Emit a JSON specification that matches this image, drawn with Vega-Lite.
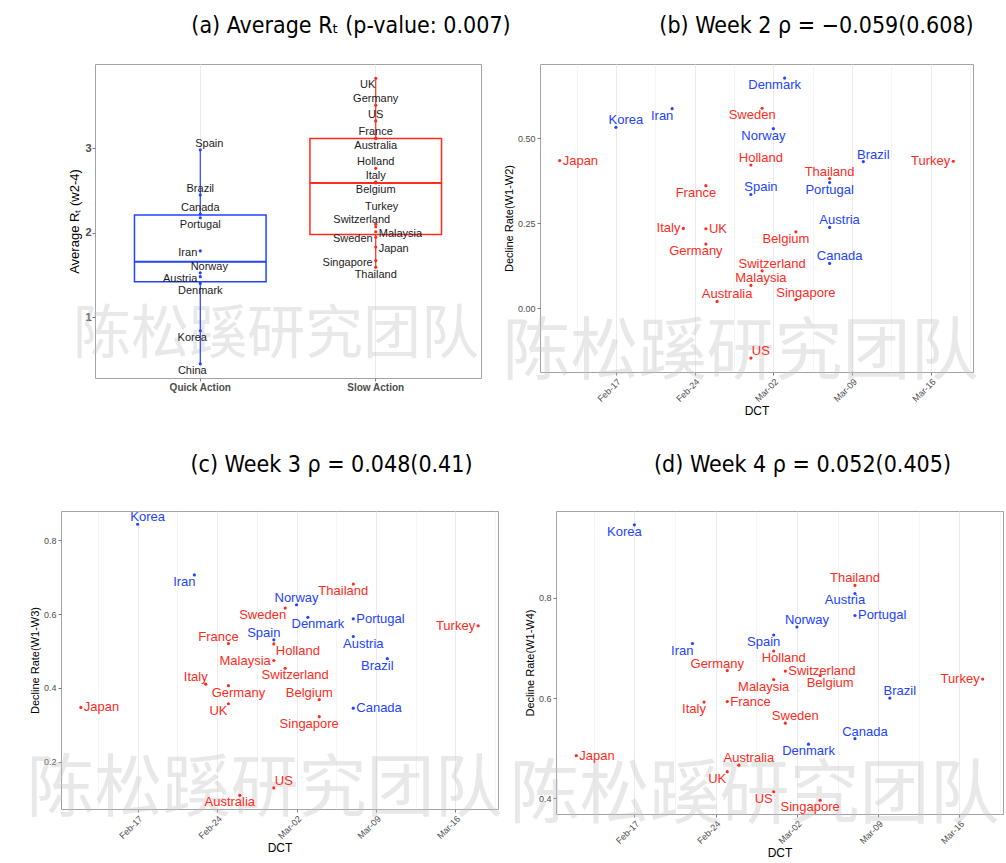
{
"$schema":"https://vega.github.io/schema/vega-lite/v6.json",
"background":"white",
"padding":{"left":25,"top":14,"right":0,"bottom":0},
"datasets":{"countries":[
{"country":"Spain","group":"Quick Action","rt":2.98,"dct":"2020-02-29","w2":0.335,"w3":0.530,"w4":0.726,"pa":"NE","pb":"NE","pc":"NW","pd":"SW"},
{"country":"Brazil","group":"Quick Action","rt":2.445,"dct":"2020-03-10","w2":0.432,"w3":0.479,"w4":0.600,"pa":"N","pb":"NE","pc":"SW","pd":"NE"},
{"country":"Canada","group":"Quick Action","rt":2.22,"dct":"2020-03-07","w2":0.132,"w3":0.345,"w4":0.519,"pa":"N","pb":"NE","pc":"E","pd":"NE"},
{"country":"Portugal","group":"Quick Action","rt":2.176,"dct":"2020-03-07","w2":0.370,"w3":0.587,"w4":0.765,"pa":"S","pb":"S","pc":"E","pd":"E"},
{"country":"Iran","group":"Quick Action","rt":1.784,"dct":"2020-02-22","w2":0.588,"w3":0.706,"w4":0.709,"pa":"W","pb":"SW","pc":"SW","pd":"SWR"},
{"country":"Norway","group":"Quick Action","rt":1.525,"dct":"2020-03-02","w2":0.529,"w3":0.625,"w4":0.742,"pa":"NE","pb":"SW","pc":"N","pd":"NE"},
{"country":"Austria","group":"Quick Action","rt":1.48,"dct":"2020-03-07","w2":0.238,"w3":0.539,"w4":0.809,"pa":"W","pb":"NE","pc":"SE","pd":"SW"},
{"country":"Denmark","group":"Quick Action","rt":1.40,"dct":"2020-03-03","w2":0.678,"w3":0.591,"w4":0.508,"pa":"S","pb":"SW","pc":"SE","pd":"S"},
{"country":"Korea","group":"Quick Action","rt":0.84,"dct":"2020-02-17","w2":0.533,"w3":0.843,"w4":0.946,"pa":"SW","pb":"NE","pc":"NE","pd":"SW"},
{"country":"China","group":"Quick Action","rt":0.449,"pa":"SW"},
{"country":"UK","group":"Slow Action","rt":3.824,"dct":"2020-02-25","w2":0.234,"w3":0.357,"w4":0.453,"pa":"SW","pb":"E","pc":"SW","pd":"SW"},
{"country":"Germany","group":"Slow Action","rt":3.505,"dct":"2020-02-25","w2":0.189,"w3":0.406,"w4":0.655,"pa":"N","pb":"SW","pc":"SE","pd":"NW"},
{"country":"US","group":"Slow Action","rt":3.32,"dct":"2020-02-29","w2":-0.147,"w3":0.129,"w4":0.413,"pa":"N","pb":"NE","pc":"NE","pd":"SW"},
{"country":"France","group":"Slow Action","rt":3.118,"dct":"2020-02-25","w2":0.361,"w3":0.520,"w4":0.593,"pa":"N","pb":"SW","pc":"NW","pd":"E"},
{"country":"Australia","group":"Slow Action","rt":3.11,"dct":"2020-02-26","w2":0.020,"w3":0.109,"w4":0.466,"pa":"S","pb":"NE","pc":"SW","pd":"NE"},
{"country":"Holland","group":"Slow Action","rt":2.76,"dct":"2020-02-29","w2":0.422,"w3":0.519,"w4":0.694,"pa":"N","pb":"NE","pc":"SEL","pd":"SE"},
{"country":"Italy","group":"Slow Action","rt":2.60,"dct":"2020-02-23","w2":0.235,"w3":0.410,"w4":0.592,"pa":"N","pb":"W","pc":"NW","pd":"SW"},
{"country":"Belgium","group":"Slow Action","rt":2.588,"dct":"2020-03-04","w2":0.225,"w3":0.368,"w4":0.645,"pa":"S","pb":"SW","pc":"NW","pd":"SE"},
{"country":"Turkey","group":"Slow Action","rt":2.10,"dct":"2020-03-18","w2":0.433,"w3":0.568,"w4":0.638,"pa":"NN","pb":"W","pc":"W","pd":"W"},
{"country":"Switzerland","group":"Slow Action","rt":2.07,"dct":"2020-03-01","w2":0.110,"w3":0.453,"w4":0.654,"pa":"NW","pb":"NE","pc":"SE","pd":"E"},
{"country":"Malaysia","group":"Slow Action","rt":2.01,"dct":"2020-02-29","w2":0.067,"w3":0.474,"w4":0.637,"pa":"E","pb":"NE","pc":"W","pd":"SW"},
{"country":"Sweden","group":"Slow Action","rt":1.945,"dct":"2020-03-01","w2":0.589,"w3":0.616,"w4":0.550,"pa":"W","pb":"SW","pc":"SWR","pd":"NE"},
{"country":"Japan","group":"Slow Action","rt":1.83,"dct":"2020-02-12","w2":0.435,"w3":0.347,"w4":0.485,"pa":"E","pb":"E","pc":"E","pd":"E"},
{"country":"Singapore","group":"Slow Action","rt":1.67,"dct":"2020-03-04","w2":0.025,"w3":0.322,"w4":0.396,"pa":"W","pb":"NE","pc":"SW","pd":"SW"},
{"country":"Thailand","group":"Slow Action","rt":1.59,"dct":"2020-03-07","w2":0.382,"w3":0.681,"w4":0.825,"pa":"S","pb":"N","pc":"SW","pd":"N"}
]},
"config":{
 "font":"Liberation Sans",
 "view":{"stroke":"#a3a3a3","strokeWidth":1},
 "axis":{"domain":false,"gridColor":"#ebebeb","tickColor":"#7a7a7a","tickSize":3,"labelColor":"#4d4d4d","labelFont":"Liberation Sans","titleFont":"Liberation Sans","titleColor":"#000000","titleFontWeight":"normal","labelPadding":2},
 "axisY":{"titlePadding":3},
 "text":{"font":"Liberation Sans","fontSize":13,"baseline":"middle"},
 "title":{"font":"Liberation Sans Narrow, DejaVu Sans Condensed, Liberation Sans","fontSize":23,"fontWeight":"normal","color":"#000000","anchor":"middle"}
},
"concat":[
{"hconcat":[
 {"width":18,"height":10,"data":{"values":[]},"mark":"point","view":{"stroke":null}},
 {"width":386,"height":314,
  "title":{"text":"(a) Average Rₜ (p-value: 0.007)","dx":63,"offset":26},
  "data":{"name":"countries"},
  "layer":[
   {"data":{"values":[{"wm":"陈松蹊研究团队"}]},"mark":{"type":"text","font":"Noto Sans CJK SC","fontSize":58,"color":"#c4c4c4","opacity":0.38,"dx":-12},"encoding":{"text":{"field":"wm"},"y":{"datum":0.776,"type":"quantitative"}}},
   {"encoding":{
     "x":{"field":"group","type":"nominal","title":null,"scale":{"paddingInner":0.25,"paddingOuter":0.225},"axis":{"labelAngle":0,"labelFontSize":10,"labelFontWeight":"bold","labelColor":"#4d4d4d","labelPadding":1,"grid":true,"bandPosition":0.5}},
     "y":{"field":"rt","type":"quantitative","title":"Average Rₜ (w2-4)","scale":{"domain":[0.282,3.993],"nice":false,"zero":false},"axis":{"values":[0.5,1,1.5,2,2.5,3,3.5],"labelExpr":"datum.value % 1 == 0 ? format(datum.value, 'd') : ''","labelFontSize":11,"labelFontWeight":"bold","labelPadding":1,"titleFontSize":13,"gridWidth":{"condition":{"test":"datum.value % 1 != 0","value":0.5},"value":1},"tickOpacity":{"condition":{"test":"datum.value % 1 != 0","value":0},"value":1}}},
     "color":{"field":"group","type":"nominal","scale":{"domain":["Quick Action","Slow Action"],"range":["#2343ff","#ff2b1c"]},"legend":null}
    },
    "layer":[
     {"transform":[{"aggregate":[{"op":"min","field":"rt","as":"lo"},{"op":"max","field":"rt","as":"hi"}],"groupby":["group"]}],"mark":{"type":"rule","strokeWidth":1.2},"encoding":{"y":{"field":"lo","type":"quantitative"},"y2":{"field":"hi"}}},
     {"transform":[{"aggregate":[{"op":"q1","field":"rt","as":"q1"},{"op":"q3","field":"rt","as":"q3"}],"groupby":["group"]}],"mark":{"type":"bar","strokeWidth":1.5},"encoding":{"y":{"field":"q1","type":"quantitative"},"y2":{"field":"q3"},"fill":{"value":"white"},"stroke":{"field":"group","type":"nominal","scale":{"domain":["Quick Action","Slow Action"],"range":["#2343ff","#ff2b1c"]},"legend":null}}},
     {"transform":[{"aggregate":[{"op":"median","field":"rt","as":"med"}],"groupby":["group"]}],"mark":{"type":"tick","thickness":2,"size":131.6,"opacity":1},"encoding":{"y":{"field":"med","type":"quantitative"}}},
     {"mark":{"type":"circle","size":10,"opacity":1}},
     {"transform":[{"filter":"datum.pa=='N'"}],"mark":{"type":"text","fontSize":11,"dy":-6},"encoding":{"text":{"field":"country"},"color":{"value":"#1a1a1a"}}},
     {"transform":[{"filter":"datum.pa=='S'"}],"mark":{"type":"text","fontSize":11,"dy":7.5},"encoding":{"text":{"field":"country"},"color":{"value":"#1a1a1a"}}},
     {"transform":[{"filter":"datum.pa=='NE'"}],"mark":{"type":"text","fontSize":11,"dx":9,"dy":-6},"encoding":{"text":{"field":"country"},"color":{"value":"#1a1a1a"}}},
     {"transform":[{"filter":"datum.pa=='NW'"}],"mark":{"type":"text","fontSize":11,"dx":-14,"dy":-7},"encoding":{"text":{"field":"country"},"color":{"value":"#1a1a1a"}}},
     {"transform":[{"filter":"datum.pa=='SW'"}],"mark":{"type":"text","fontSize":11,"dx":-8,"dy":7},"encoding":{"text":{"field":"country"},"color":{"value":"#1a1a1a"}}},
     {"transform":[{"filter":"datum.pa=='NN'"}],"mark":{"type":"text","fontSize":11,"dx":6,"dy":-17},"encoding":{"text":{"field":"country"},"color":{"value":"#1a1a1a"}}},
     {"transform":[{"filter":"datum.pa=='E'"}],"mark":{"type":"text","fontSize":11,"align":"left","dx":3,"dy":2},"encoding":{"text":{"field":"country"},"color":{"value":"#1a1a1a"}}},
     {"transform":[{"filter":"datum.pa=='W'"}],"mark":{"type":"text","fontSize":11,"align":"right","dx":-3,"dy":2},"encoding":{"text":{"field":"country"},"color":{"value":"#1a1a1a"}}}
    ]}
  ]},
 {"width":433,"height":308,
  "title":{"text":"(b) Week 2  ρ = −0.059(0.608)","dx":60,"offset":26},
  "data":{"name":"countries"},
  "layer":[
   {"data":{"values":[{"wm":"陈松蹊研究团队"}]},"mark":{"type":"text","font":"Noto Sans CJK SC","fontSize":68,"color":"#c4c4c4","opacity":0.38,"dx":-16},"encoding":{"text":{"field":"wm"},"y":{"datum":-0.136,"type":"quantitative"}}},
   {"transform":[{"filter":"datum.country != 'China'"}],
    "encoding":{
     "x":{"field":"dct","type":"temporal","title":"DCT","scale":{"type":"utc","domain":[{"year":2020,"month":2,"date":10,"hours":6,"utc":true},{"year":2020,"month":3,"date":19,"hours":18,"utc":true}]},"axis":{"values":[{"year":2020,"month":2,"date":13,"hours":12,"utc":true},{"year":2020,"month":2,"date":17,"utc":true},{"year":2020,"month":2,"date":20,"hours":12,"utc":true},{"year":2020,"month":2,"date":24,"utc":true},{"year":2020,"month":2,"date":27,"hours":12,"utc":true},{"year":2020,"month":3,"date":2,"utc":true},{"year":2020,"month":3,"date":5,"hours":12,"utc":true},{"year":2020,"month":3,"date":9,"utc":true},{"year":2020,"month":3,"date":12,"hours":12,"utc":true},{"year":2020,"month":3,"date":16,"utc":true},{"year":2020,"month":3,"date":19,"hours":12,"utc":true}],"labelExpr":"utchours(datum.value) == 12 ? '' : utcFormat(datum.value, '%b-%d')","labelAngle":-45,"labelAlign":"right","labelBaseline":"top","labelFontSize":9,"labelOverlap":false,"labelFlush":false,"titleFontSize":12,"titlePadding":2,"gridWidth":{"condition":{"test":"utchours(datum.value) == 12","value":0.5},"value":1},"tickOpacity":{"condition":{"test":"utchours(datum.value) == 12","value":0},"value":1}}},
     "y":{"field":"w2","type":"quantitative","title":"Decline Rate(W1-W2)","scale":{"domain":[-0.188,0.7195],"nice":false,"zero":false},"axis":{"values":[-0.125,0,0.125,0.25,0.375,0.5,0.625],"labelExpr":"abs(datum.value*4-round(datum.value*4)) > 0.01 ? '' : format(datum.value, '.2f')","labelFontSize":9,"titleFontSize":11,"gridWidth":{"condition":{"test":"abs(datum.value*4-round(datum.value*4)) > 0.01","value":0.5},"value":1},"tickOpacity":{"condition":{"test":"abs(datum.value*4-round(datum.value*4)) > 0.01","value":0},"value":1}}},
     "color":{"field":"group","type":"nominal","scale":{"domain":["Quick Action","Slow Action"],"range":["#2343ff","#ff2b1c"]},"legend":null}
    },
    "layer":[
     {"mark":{"type":"circle","size":10,"opacity":1}},
     {"transform":[{"filter":"datum.pb=='NE'"}],"mark":{"type":"text","dx":10,"dy":-7},"encoding":{"text":{"field":"country"}}},
     {"transform":[{"filter":"datum.pb=='SW'"}],"mark":{"type":"text","dx":-10,"dy":7},"encoding":{"text":{"field":"country"}}},
     {"transform":[{"filter":"datum.pb=='N'"}],"mark":{"type":"text","dy":-7},"encoding":{"text":{"field":"country"}}},
     {"transform":[{"filter":"datum.pb=='S'"}],"mark":{"type":"text","dy":7},"encoding":{"text":{"field":"country"}}},
     {"transform":[{"filter":"datum.pb=='E'"}],"mark":{"type":"text","align":"left","dx":3},"encoding":{"text":{"field":"country"}}},
     {"transform":[{"filter":"datum.pb=='W'"}],"mark":{"type":"text","align":"right","dx":-3},"encoding":{"text":{"field":"country"}}}
    ]}
  ]}
 ],"spacing":-11},
{"hconcat":[
 {"width":437,"height":298,
  "title":{"text":"(c) Week 3 ρ = 0.048(0.41)","dx":52,"offset":34},
  "data":{"name":"countries"},
  "layer":[
   {"data":{"values":[{"wm":"陈松蹊研究团队"}]},"mark":{"type":"text","font":"Noto Sans CJK SC","fontSize":68,"color":"#c4c4c4","opacity":0.38,"dx":-15},"encoding":{"text":{"field":"wm"},"y":{"datum":0.121,"type":"quantitative"}}},
   {"transform":[{"filter":"datum.country != 'China'"}],
    "encoding":{
     "x":{"field":"dct","type":"temporal","title":"DCT","scale":{"type":"utc","domain":[{"year":2020,"month":2,"date":10,"hours":6,"utc":true},{"year":2020,"month":3,"date":19,"hours":18,"utc":true}]},"axis":{"values":[{"year":2020,"month":2,"date":13,"hours":12,"utc":true},{"year":2020,"month":2,"date":17,"utc":true},{"year":2020,"month":2,"date":20,"hours":12,"utc":true},{"year":2020,"month":2,"date":24,"utc":true},{"year":2020,"month":2,"date":27,"hours":12,"utc":true},{"year":2020,"month":3,"date":2,"utc":true},{"year":2020,"month":3,"date":5,"hours":12,"utc":true},{"year":2020,"month":3,"date":9,"utc":true},{"year":2020,"month":3,"date":12,"hours":12,"utc":true},{"year":2020,"month":3,"date":16,"utc":true},{"year":2020,"month":3,"date":19,"hours":12,"utc":true}],"labelExpr":"utchours(datum.value) == 12 ? '' : utcFormat(datum.value, '%b-%d')","labelAngle":-45,"labelAlign":"right","labelBaseline":"top","labelFontSize":9,"labelOverlap":false,"labelFlush":false,"titleFontSize":12,"titlePadding":2,"gridWidth":{"condition":{"test":"utchours(datum.value) == 12","value":0.5},"value":1},"tickOpacity":{"condition":{"test":"utchours(datum.value) == 12","value":0},"value":1}}},
     "y":{"field":"w3","type":"quantitative","title":"Decline Rate(W1-W3)","scale":{"domain":[0.0719,0.879],"nice":false,"zero":false},"axis":{"values":[0.1,0.2,0.3,0.4,0.5,0.6,0.7,0.8],"labelExpr":"abs(datum.value*5-round(datum.value*5)) > 0.01 ? '' : format(datum.value, '.1f')","labelFontSize":9,"titleFontSize":11,"gridWidth":{"condition":{"test":"abs(datum.value*5-round(datum.value*5)) > 0.01","value":0.5},"value":1},"tickOpacity":{"condition":{"test":"abs(datum.value*5-round(datum.value*5)) > 0.01","value":0},"value":1}}},
     "color":{"field":"group","type":"nominal","scale":{"domain":["Quick Action","Slow Action"],"range":["#2343ff","#ff2b1c"]},"legend":null}
    },
    "layer":[
     {"mark":{"type":"circle","size":10,"opacity":1}},
     {"transform":[{"filter":"datum.pc=='NE'"}],"mark":{"type":"text","dx":10,"dy":-7},"encoding":{"text":{"field":"country"}}},
     {"transform":[{"filter":"datum.pc=='NW'"}],"mark":{"type":"text","dx":-10,"dy":-7},"encoding":{"text":{"field":"country"}}},
     {"transform":[{"filter":"datum.pc=='SE'"}],"mark":{"type":"text","dx":10,"dy":7},"encoding":{"text":{"field":"country"}}},
     {"transform":[{"filter":"datum.pc=='SW'"}],"mark":{"type":"text","dx":-10,"dy":7},"encoding":{"text":{"field":"country"}}},
     {"transform":[{"filter":"datum.pc=='N'"}],"mark":{"type":"text","dy":-7},"encoding":{"text":{"field":"country"}}},
     {"transform":[{"filter":"datum.pc=='E'"}],"mark":{"type":"text","align":"left","dx":3},"encoding":{"text":{"field":"country"}}},
     {"transform":[{"filter":"datum.pc=='W'"}],"mark":{"type":"text","align":"right","dx":-3},"encoding":{"text":{"field":"country"}}},
     {"transform":[{"filter":"datum.pc=='SEL'"}],"mark":{"type":"text","align":"left","dx":2,"dy":7},"encoding":{"text":{"field":"country"}}},
     {"transform":[{"filter":"datum.pc=='SWR'"}],"mark":{"type":"text","align":"right","dx":1,"dy":7},"encoding":{"text":{"field":"country"}}}
    ]}
  ]},
 {"width":447,"height":303,
  "title":{"text":"(d) Week 4 ρ = 0.052(0.405)","dx":23,"offset":34},
  "data":{"name":"countries"},
  "layer":[
   {"data":{"values":[{"wm":"陈松蹊研究团队"}]},"mark":{"type":"text","font":"Noto Sans CJK SC","fontSize":70,"color":"#c4c4c4","opacity":0.38,"dx":-25},"encoding":{"text":{"field":"wm"},"y":{"datum":0.403,"type":"quantitative"}}},
   {"transform":[{"filter":"datum.country != 'China'"}],
    "encoding":{
     "x":{"field":"dct","type":"temporal","title":"DCT","scale":{"type":"utc","domain":[{"year":2020,"month":2,"date":10,"hours":6,"utc":true},{"year":2020,"month":3,"date":19,"hours":18,"utc":true}]},"axis":{"values":[{"year":2020,"month":2,"date":13,"hours":12,"utc":true},{"year":2020,"month":2,"date":17,"utc":true},{"year":2020,"month":2,"date":20,"hours":12,"utc":true},{"year":2020,"month":2,"date":24,"utc":true},{"year":2020,"month":2,"date":27,"hours":12,"utc":true},{"year":2020,"month":3,"date":2,"utc":true},{"year":2020,"month":3,"date":5,"hours":12,"utc":true},{"year":2020,"month":3,"date":9,"utc":true},{"year":2020,"month":3,"date":12,"hours":12,"utc":true},{"year":2020,"month":3,"date":16,"utc":true},{"year":2020,"month":3,"date":19,"hours":12,"utc":true}],"labelExpr":"utchours(datum.value) == 12 ? '' : utcFormat(datum.value, '%b-%d')","labelAngle":-45,"labelAlign":"right","labelBaseline":"top","labelFontSize":9,"labelOverlap":false,"labelFlush":false,"titleFontSize":12,"titlePadding":2,"gridWidth":{"condition":{"test":"utchours(datum.value) == 12","value":0.5},"value":1},"tickOpacity":{"condition":{"test":"utchours(datum.value) == 12","value":0},"value":1}}},
     "y":{"field":"w4","type":"quantitative","title":"Decline Rate(W1-W4)","scale":{"domain":[0.3685,0.9737],"nice":false,"zero":false},"axis":{"values":[0.4,0.5,0.6,0.7,0.8,0.9],"labelExpr":"abs(datum.value*5-round(datum.value*5)) > 0.01 ? '' : format(datum.value, '.1f')","labelFontSize":9,"titleFontSize":11,"gridWidth":{"condition":{"test":"abs(datum.value*5-round(datum.value*5)) > 0.01","value":0.5},"value":1},"tickOpacity":{"condition":{"test":"abs(datum.value*5-round(datum.value*5)) > 0.01","value":0},"value":1}}},
     "color":{"field":"group","type":"nominal","scale":{"domain":["Quick Action","Slow Action"],"range":["#2343ff","#ff2b1c"]},"legend":null}
    },
    "layer":[
     {"mark":{"type":"circle","size":10,"opacity":1}},
     {"transform":[{"filter":"datum.pd=='NE'"}],"mark":{"type":"text","dx":10,"dy":-7},"encoding":{"text":{"field":"country"}}},
     {"transform":[{"filter":"datum.pd=='NW'"}],"mark":{"type":"text","dx":-10,"dy":-7},"encoding":{"text":{"field":"country"}}},
     {"transform":[{"filter":"datum.pd=='SE'"}],"mark":{"type":"text","dx":10,"dy":7},"encoding":{"text":{"field":"country"}}},
     {"transform":[{"filter":"datum.pd=='SW'"}],"mark":{"type":"text","dx":-10,"dy":7},"encoding":{"text":{"field":"country"}}},
     {"transform":[{"filter":"datum.pd=='N'"}],"mark":{"type":"text","dy":-7},"encoding":{"text":{"field":"country"}}},
     {"transform":[{"filter":"datum.pd=='S'"}],"mark":{"type":"text","dy":7},"encoding":{"text":{"field":"country"}}},
     {"transform":[{"filter":"datum.pd=='E'"}],"mark":{"type":"text","align":"left","dx":3},"encoding":{"text":{"field":"country"}}},
     {"transform":[{"filter":"datum.pd=='W'"}],"mark":{"type":"text","align":"right","dx":-3},"encoding":{"text":{"field":"country"}}},
     {"transform":[{"filter":"datum.pd=='SWR'"}],"mark":{"type":"text","align":"right","dx":1,"dy":7},"encoding":{"text":{"field":"country"}}}
    ]}
  ]}
 ],"bounds":"flush","spacing":58}
],
"columns":1,
"align":"none",
"spacing":35
}
